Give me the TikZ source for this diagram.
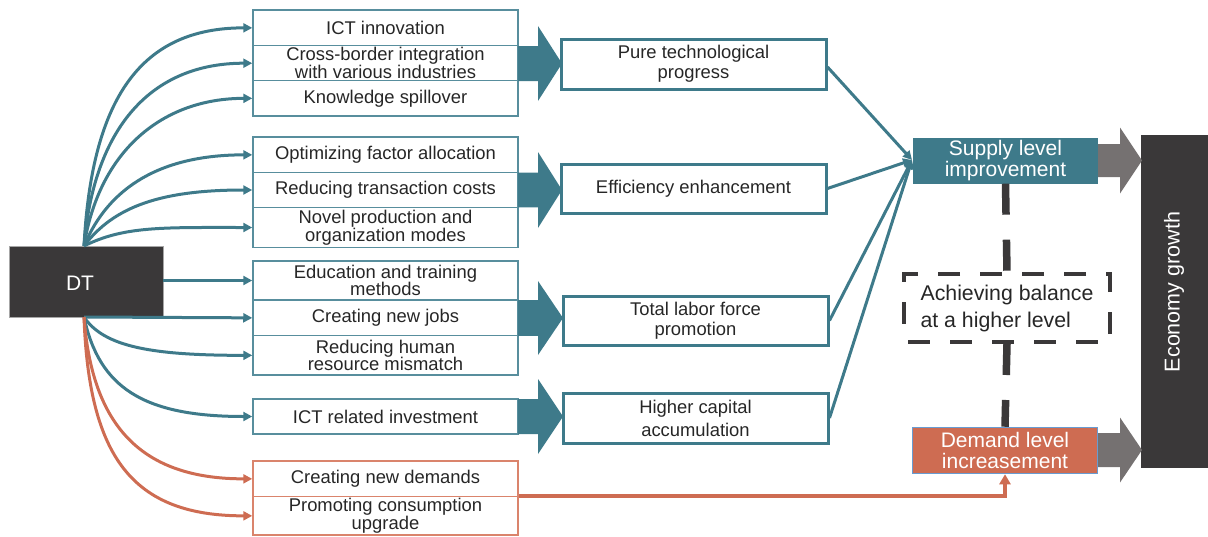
\documentclass[tikz,border=0pt]{standalone}
\usepackage{fontspec}
\setmainfont{Liberation Sans}
\usetikzlibrary{arrows.meta}

\definecolor{tealc}{RGB}{62,122,138}
\definecolor{tealedge}{RGB}{88,142,157}
\definecolor{orangec}{RGB}{206,108,82}
\definecolor{orangeedge}{RGB}{218,132,108}
\definecolor{darkc}{RGB}{58,56,57}
\definecolor{grayarrow}{RGB}{117,113,113}
\definecolor{blueedge}{RGB}{104,156,210}
\definecolor{textc}{RGB}{38,38,38}

% filled block arrow: start x, centre y, shaft half width, head half width, head start x, tip x, colour
\newcommand\blockarrow[7]{%
  \fill[#7] (#1,#2-#3) -- (#5,#2-#3) -- (#5,#2-#4) -- (#6,#2) -- (#5,#2+#4)
    -- (#5,#2+#3) -- (#1,#2+#3) -- cycle;}

\tikzset{
  rowbox/.style={draw=tealedge, line width=1.5, minimum width=265, inner sep=0,
    align=center, text=textc, font=\fontsize{18.4}{17.6}\selectfont},
  orangerow/.style={rowbox, draw=orangeedge},
  midbox/.style={draw=tealc, line width=3, minimum width=265, minimum height=48,
    inner sep=0, align=center, text=textc, font=\fontsize{18.4}{20}\selectfont},
  curvearrow/.style={draw=tealc, line width=3, -{Triangle[length=9,width=9]}},
  orangearrow/.style={curvearrow, draw=orangec, -{Triangle[length=9,width=9]}},
  levelbox/.style={minimum width=185, minimum height=46, inner sep=0, align=center,
    text=white, font=\fontsize{21}{21.5}\selectfont},
}

\begin{document}
\begin{tikzpicture}[x=1pt,y=-1pt]
\useasboundingbox (0,0) rectangle (1208,536);

% source node
\node[fill=darkc, draw=gray!70, line width=0.8, minimum width=154, minimum height=71,
  inner sep=0] (dt) at (86,281.5) {};
\node[text=white, font=\fontsize{21}{21}\selectfont] (dtlabel) at (80,283) {DT};

% first-level channels
\node[rowbox, minimum height=35.7] (ict)   at (385.5,27.85)  {ICT innovation};
\node[rowbox, minimum height=35]   (cross) at (385.5,63.2)   {Cross-border integration\\with various industries};
\node[rowbox, minimum height=35.3] (know)  at (385.5,98.35)  {Knowledge spillover};

\node[rowbox, minimum height=35.7] (opt)   at (385.5,154.85) {Optimizing factor allocation};
\node[rowbox, minimum height=34.6] (trans) at (385.5,190)    {Reducing transaction costs};
\node[rowbox, minimum height=40.4] (novel) at (385.5,227.5)  {Novel production and\\organization modes};

\node[rowbox, minimum height=39]   (edu)   at (385.5,280.5)  {Education and training\\methods};
\node[rowbox, minimum height=35.7] (jobs)  at (385.5,317.85) {Creating new jobs};
\node[rowbox, minimum height=39.3] (human) at (385.5,355.35) {Reducing human\\resource mismatch};

\node[rowbox, minimum height=35]   (inv)   at (385.5,416.5)  {ICT related investment};

\node[orangerow, minimum height=35.7] (newdem) at (385.5,478.85) {Creating new demands};
\node[orangerow, minimum height=38.3] (cons)   at (385.5,515.85) {Promoting consumption\\upgrade};

% block arrows into the second level
\blockarrow{518}{63.5}{17.5}{37.5}{538}{562}{tealc}
\blockarrow{518}{190}{17.3}{38}{538}{562}{tealc}
\blockarrow{518}{318}{17.8}{37}{538}{563}{tealc}
\blockarrow{518}{416.5}{17.5}{37.5}{538}{563}{tealc}

% second-level effects
\node[midbox, minimum height=50] (pure)  at (693.5,64)   {Pure technological\\progress};
\node[midbox, minimum height=49] (eff)   at (693.5,188.5) {Efficiency enhancement};
\node[midbox, minimum height=49] (labor) at (695.5,320.5) {Total labor force\\promotion};
\node[midbox, minimum height=50, font=\fontsize{18.4}{23}\selectfont] (capital) at (695.5,418) {Higher capital\\accumulation};

% supply and demand levels
\node[levelbox, fill=tealc] (supply) at (1005.5,160.5) {Supply level\\improvement};
\node[levelbox, fill=orangec, draw=blueedge, line width=1.5] (demand) at (1005,450.5) {Demand level\\increasement};

% balance between the two levels
\node[draw=darkc, line width=4, dash pattern=on 22 off 20, dash phase=-4,
  minimum width=206, minimum height=68, inner sep=0, align=left, text=textc,
  font=\fontsize{21.3}{27}\selectfont] (balance) at (1007,308) {Achieving balance\\at a higher level};

% outcome
\node[fill=darkc, minimum width=67, minimum height=333, inner sep=0] (growth) at (1174.5,301.5) {};
\node[rotate=90, text=white, font=\fontsize{21.5}{22}\selectfont] (growthlabel) at (1174,292) {Economy growth};

% gray arrows into economy growth
\blockarrow{1098}{160.5}{16.5}{33}{1120}{1142}{grayarrow}
\blockarrow{1098}{450}{17}{32.5}{1120}{1142}{grayarrow}

% connectors from DT upwards
\coordinate (top) at (84,246);
\draw[curvearrow] (top) .. controls +(8,-150) and +(-110,0) .. (ict.west);
\draw[curvearrow] (top) .. controls +(10,-120) and +(-100,0) .. (cross.west);
\draw[curvearrow] (top) .. controls +(15,-95) and +(-90,0) .. (know.west);
\draw[curvearrow] (top) .. controls +(25,-60) and +(-90,0) .. (opt.west);
\draw[curvearrow] (top) .. controls +(30,-40) and +(-90,0) .. (trans.west);
\draw[curvearrow] (top) .. controls +(40,-20) and +(-90,0) .. (novel.west);

% connectors from DT rightwards and downwards
\coordinate (bottom) at (84,317);
\draw[curvearrow] (dt.east |- edu.west) -- (edu.west);
\draw[curvearrow] (bottom) -- (jobs.west);
\draw[curvearrow] (bottom) .. controls +(20,30) and +(-100,0) .. (human.west);
\draw[curvearrow] (bottom) .. controls +(15,70) and +(-110,0) .. (inv.west);
\draw[orangearrow] (bottom) .. controls +(8,110) and +(-110,0) .. (newdem.west);
\draw[orangearrow] (bottom) .. controls +(5,140) and +(-120,0) .. (cons.west);

% second level into supply level
\coordinate (sin) at (912,160);
\draw[curvearrow] (pure.east) ++(0,3) -- (sin);
\draw[curvearrow] (eff.east) -- (sin);
\draw[curvearrow] (labor.east) -- (sin);
\draw[curvearrow] (capital.east) -- (sin);

% demand side connector
\draw[draw=orangec, line width=3.5, -{Triangle[length=10,width=11]}]
  (cons.north east) -| (demand.south);

% supply and demand tied through the balance box
\draw[darkc, line width=7.5, dash pattern=on 31 off 25] (supply.south) -- (balance.north);
\draw[darkc, line width=7.5, dash pattern=on 31 off 25] (balance.south) -- (demand.north);

\end{tikzpicture}
\end{document}
